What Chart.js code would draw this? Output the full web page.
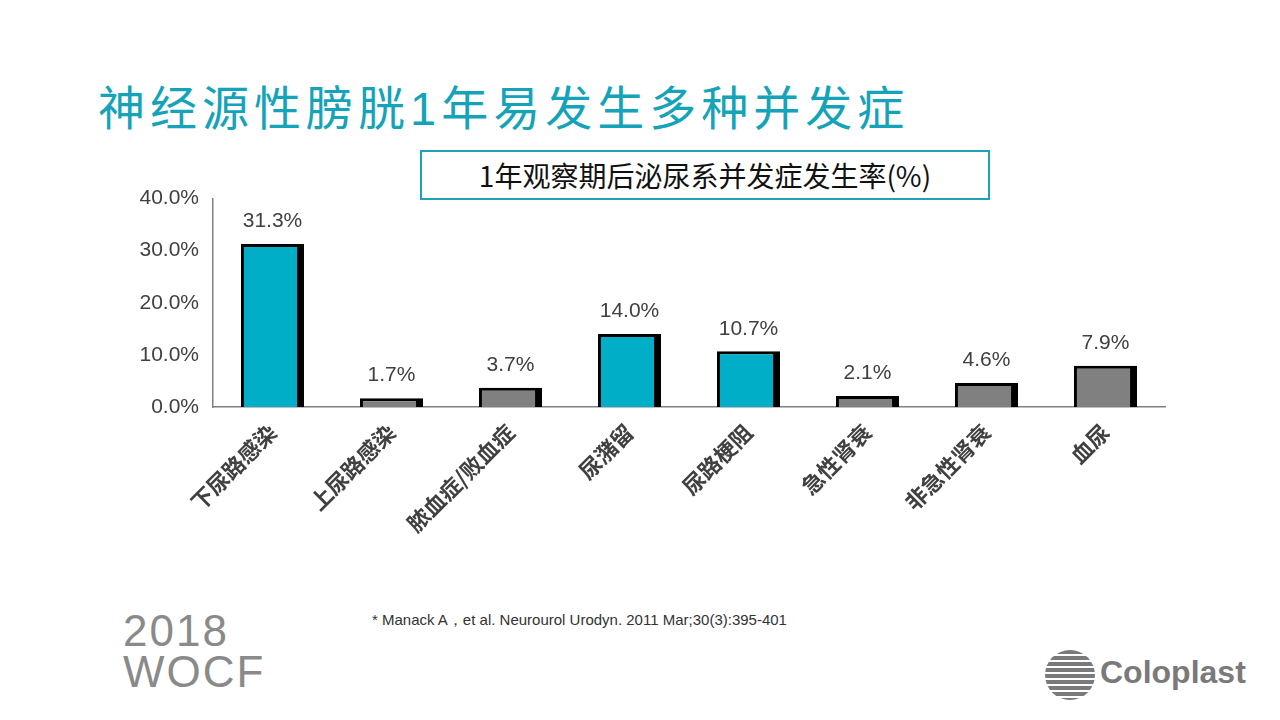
<!DOCTYPE html>
<html><head><meta charset="utf-8">
<script src="https://cdn.jsdelivr.net/npm/chart.js@4"></script>
<style>
body{margin:0;width:1280px;height:720px;background:#fff;position:relative;overflow:hidden;font-family:"Noto Sans CJK SC","Liberation Sans",sans-serif}
#title{position:absolute;left:98px;top:70px;font-size:47px;color:#14a3b8;letter-spacing:5px;white-space:nowrap}
#box{position:absolute;left:420px;top:150px;width:566px;height:46px;border:2px solid #1fa2b5;font-size:28px;color:#111;text-align:center;line-height:46px;white-space:nowrap}
#wrap{position:absolute;left:100px;top:180px;width:1080px;height:400px}
#ref{position:absolute;left:372px;top:611px;font-size:15px;color:#333;font-family:"Liberation Sans Narrow","Liberation Sans",sans-serif}
#wocf{position:absolute;left:123px;top:610px;font-size:44px;line-height:41px;color:#8a8a8a;font-family:"Liberation Sans",sans-serif;letter-spacing:2px}
#colo{position:absolute;left:1100px;top:654px;font-size:32px;font-weight:bold;color:#7a7a7a;font-family:"Liberation Sans Narrow","Liberation Sans",sans-serif}
#colc{position:absolute;left:1045px;top:650px;width:50px;height:50px;border-radius:50%;background:repeating-linear-gradient(#7a7a7a 0 4px,#fff 4px 6px)}
</style></head><body>
<div id="title">神经源性膀胱<span style="font-family:'Liberation Sans'">1</span>年易发生多种并发症</div>
<div id="box">1年观察期后泌尿系并发症发生率(%)</div>
<div id="wrap"><canvas id="c"></canvas></div>
<div id="ref">* Manack A，et al. Neurourol Urodyn. 2011 Mar;30(3):395-401</div>
<div id="wocf">2018<br>WOCF</div>
<div id="colc"></div><div id="colo">Coloplast</div>
<script>
const categories=["下尿路感染","上尿路感染","脓血症/败血症","尿潴留","尿路梗阻","急性肾衰","非急性肾衰","血尿"];
const values=[31.3,1.7,3.7,14.0,10.7,2.1,4.6,7.9];
const barColors=["#00aec7","#808080","#808080","#00aec7","#00aec7","#808080","#808080","#808080"];
const labelPlugin={id:'vl',afterDatasetsDraw(chart){
  const ctx=chart.ctx;const meta=chart.getDatasetMeta(0);
  ctx.save();ctx.font='21px "Liberation Sans",sans-serif';ctx.fillStyle='#404040';ctx.textAlign='center';ctx.textBaseline='bottom';
  meta.data.forEach((el,i)=>ctx.fillText(values[i].toFixed(1)+'%',el.x,el.y-12));
  ctx.restore();}};
new Chart(document.getElementById('c'),{type:'bar',
data:{labels:categories,datasets:[{data:values,backgroundColor:barColors,borderColor:'#000',
 borderWidth:{top:3,left:3,right:7,bottom:0},borderSkipped:false,barPercentage:0.53,categoryPercentage:1}]},
options:{responsive:true,maintainAspectRatio:false,animation:false,
 layout:{padding:{top:15,right:15,left:0,bottom:0}},
 plugins:{legend:{display:false},tooltip:{enabled:false}},
 scales:{
  y:{min:0,max:40,ticks:{stepSize:10,color:'#404040',font:{size:21,family:'"Liberation Sans",sans-serif'},callback:v=>v.toFixed(1)+'%',padding:6},
     grid:{display:false,drawTicks:true,tickLength:8,color:'#808080'},border:{color:'#808080',width:1.5},
     afterFit:s=>{s.width=113;}},
  x:{ticks:{maxRotation:45,minRotation:45,color:'#404040',font:{size:22,weight:'bold',family:'"Noto Sans CJK SC",sans-serif'},padding:4},
     grid:{display:false},border:{color:'#808080',width:1.5},afterFit:s=>{s.height=173;}}
 }},plugins:[labelPlugin]});
</script></body></html>
